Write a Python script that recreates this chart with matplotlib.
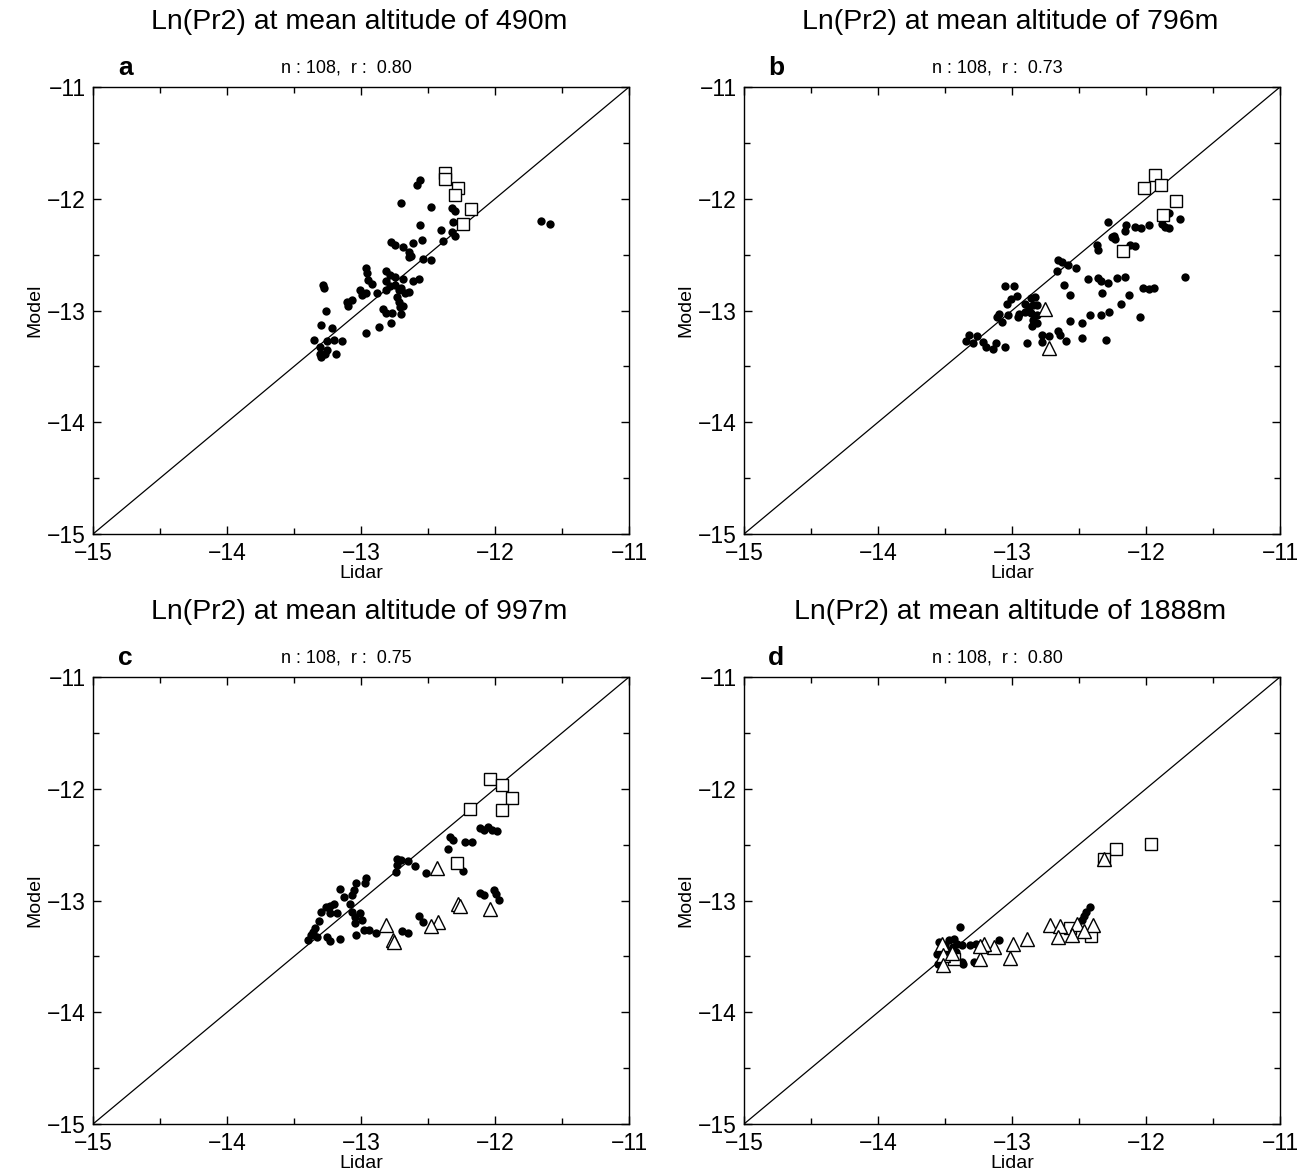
import matplotlib
matplotlib.use('Agg')
import matplotlib.pyplot as plt
from matplotlib.ticker import MultipleLocator

plt.rcParams['font.family'] = ['Liberation Sans', 'DejaVu Sans']
plt.rcParams['axes.unicode_minus'] = True

# panel a : 490 m
a_dot_x = [-12.56, -12.585, -12.70, -12.48, -12.32, -12.30, -12.315, -12.56, -12.40, -12.39,
           -12.32, -12.30, -11.66, -11.59, -12.78, -12.745, -12.685, -12.61, -12.545, -12.645,
           -12.625, -12.645, -12.535, -12.475, -12.96, -12.955, -12.81, -12.785, -12.745, -12.69,
           -12.61, -12.565, -12.945, -12.915, -12.81, -12.785, -12.745, -12.72, -12.70, -12.645,
           -12.67, -12.81, -12.735, -12.72, -12.71, -12.685, -13.285, -13.275, -13.005, -12.995,
           -12.965, -12.88, -13.105, -13.07, -13.095, -12.835, -12.815, -12.77, -12.705, -12.775,
           -12.865, -12.965, -13.265, -13.295, -13.22, -13.35, -13.255, -13.205, -13.145, -13.305,
           -13.255, -13.305, -13.30, -13.185, -13.27]
a_dot_y = [-11.83, -11.88, -12.04, -12.07, -12.08, -12.11, -12.205, -12.235, -12.28, -12.375,
           -12.30, -12.335, -12.195, -12.225, -12.39, -12.415, -12.435, -12.395, -12.37, -12.475,
           -12.51, -12.525, -12.54, -12.55, -12.62, -12.66, -12.65, -12.68, -12.70, -12.72,
           -12.735, -12.715, -12.73, -12.765, -12.74, -12.785, -12.77, -12.815, -12.80, -12.83,
           -12.845, -12.815, -12.875, -12.92, -12.965, -12.96, -12.77, -12.80, -12.815, -12.86,
           -12.845, -12.845, -12.92, -12.905, -12.96, -12.99, -13.025, -13.025, -13.03, -13.115,
           -13.145, -13.205, -13.00, -13.13, -13.155, -13.265, -13.27, -13.265, -13.275, -13.325,
           -13.355, -13.385, -13.42, -13.39, -13.385]
a_sq_x = [-12.375, -12.37, -12.28, -12.295, -12.18, -12.24]
a_sq_y = [-11.77, -11.825, -11.90, -11.97, -12.09, -12.23]
a_tri_x = []
a_tri_y = []

# panel b : 796 m
b_dot_x = [-12.28, -12.15, -12.08, -12.04, -12.155, -11.975, -11.88, -11.855, -11.83, -11.825,
           -11.745, -12.255, -12.23, -12.24, -12.365, -12.355, -12.12, -12.08, -12.66, -12.625,
           -12.585, -12.52, -12.665, -12.435, -12.355, -12.335, -12.28, -12.22, -12.155, -11.71,
           -12.025, -11.98, -11.94, -12.615, -12.57, -12.33, -12.125, -12.185, -12.275, -12.335,
           -12.42, -12.045, -12.57, -12.475, -12.475, -12.30, -12.775, -12.725, -12.655, -12.64,
           -12.595, -12.775, -12.89, -13.055, -12.985, -12.965, -13.01, -13.035, -12.86, -12.825,
           -12.90, -12.875, -12.84, -12.81, -12.90, -12.86, -12.81, -12.84, -12.815, -12.85,
           -12.95, -12.955, -13.03, -13.10, -13.11, -13.075, -13.32, -13.26, -13.34, -13.29,
           -13.22, -13.195, -13.145, -13.12, -13.055]
b_dot_y = [-12.21, -12.235, -12.25, -12.26, -12.285, -12.235, -12.225, -12.25, -12.265, -12.13,
           -12.185, -12.345, -12.36, -12.335, -12.415, -12.455, -12.415, -12.42, -12.55, -12.57,
           -12.595, -12.62, -12.645, -12.72, -12.71, -12.74, -12.75, -12.71, -12.70, -12.70,
           -12.80, -12.81, -12.80, -12.775, -12.86, -12.845, -12.86, -12.94, -13.01, -13.04,
           -13.04, -13.06, -13.095, -13.115, -13.245, -13.26, -13.22, -13.225, -13.18, -13.22,
           -13.27, -13.28, -13.295, -12.785, -12.785, -12.87, -12.90, -12.94, -12.89, -12.875,
           -12.94, -12.965, -12.95, -12.95, -13.01, -13.025, -13.04, -13.085, -13.115, -13.135,
           -13.035, -13.06, -13.04, -13.03, -13.06, -13.10, -13.22, -13.23, -13.27, -13.29,
           -13.28, -13.325, -13.34, -13.295, -13.33]
b_sq_x = [-11.93, -12.015, -11.89, -11.775, -11.875, -12.17]
b_sq_y = [-11.79, -11.905, -11.875, -12.02, -12.145, -12.465]
b_tri_x = [-12.75, -12.725]
b_tri_y = [-12.985, -13.335]

# panel c : 997 m
c_dot_x = [-12.115, -12.08, -12.05, -12.025, -11.985, -12.335, -12.315, -12.225, -12.175, -12.35,
           -12.735, -12.70, -12.65, -12.595, -12.73, -12.74, -12.515, -12.24, -12.965, -12.97,
           -13.035, -13.05, -13.155, -13.125, -13.07, -13.08, -13.205, -13.23, -13.26, -13.295,
           -13.23, -13.18, -13.07, -13.005, -13.045, -12.995, -13.045, -13.31, -13.345, -13.355,
           -13.375, -13.395, -13.33, -13.255, -13.23, -13.155, -13.035, -12.98, -12.94, -12.885,
           -12.695, -12.65, -12.57, -12.535, -12.11, -12.08, -12.005, -11.99, -11.97]
c_dot_y = [-12.355, -12.37, -12.34, -12.365, -12.38, -12.43, -12.46, -12.48, -12.475, -12.535,
           -12.625, -12.64, -12.645, -12.69, -12.68, -12.745, -12.755, -12.735, -12.80, -12.84,
           -12.845, -12.91, -12.90, -12.97, -12.95, -13.03, -13.03, -13.05, -13.06, -13.10,
           -13.11, -13.11, -13.10, -13.115, -13.145, -13.17, -13.205, -13.18, -13.25, -13.28,
           -13.31, -13.355, -13.325, -13.325, -13.36, -13.345, -13.31, -13.26, -13.265, -13.29,
           -13.27, -13.295, -13.14, -13.195, -12.93, -12.95, -12.905, -12.94, -12.995]
c_sq_x = [-12.035, -11.95, -11.87, -12.19, -11.95, -12.285]
c_sq_y = [-11.915, -11.965, -12.08, -12.18, -12.19, -12.665]
c_tri_x = [-12.43, -12.275, -12.26, -12.035, -12.425, -12.475, -12.815, -12.76, -12.755]
c_tri_y = [-12.705, -13.03, -13.05, -13.075, -13.19, -13.225, -13.22, -13.355, -13.37]

# panel d : 1888 m
d_dot_x = [-12.42, -12.445, -12.465, -12.475, -13.39, -13.435, -13.47, -13.545, -13.41, -13.37,
           -13.56, -13.485, -13.42, -13.555, -13.37, -13.365, -13.31, -13.27, -13.095, -13.285,
           -13.50, -13.44]
d_dot_y = [-13.06, -13.10, -13.14, -13.175, -13.235, -13.34, -13.355, -13.37, -13.385, -13.40,
           -13.475, -13.445, -13.46, -13.565, -13.55, -13.57, -13.40, -13.385, -13.355, -13.55,
           -13.40, -13.42]
d_sq_x = [-12.225, -11.96, -12.315, -12.41, -12.565, -13.435]
d_sq_y = [-12.535, -12.495, -12.625, -13.32, -13.25, -13.52]
d_tri_x = [-12.31, -12.72, -12.645, -12.515, -12.395, -12.66, -12.55, -12.46, -12.89, -12.99,
           -13.015, -13.135, -13.21, -13.24, -13.235, -13.52, -13.515, -13.515, -13.445]
d_tri_y = [-12.63, -13.22, -13.23, -13.21, -13.215, -13.33, -13.31, -13.27, -13.345, -13.39,
           -13.51, -13.42, -13.39, -13.52, -13.405, -13.385, -13.49, -13.575, -13.47]

letters = ['a', 'b', 'c', 'd']
altitudes = [490, 796, 997, 1888]
r_values = ['0.80', '0.73', '0.75', '0.80']
n_points = 108

panels = [
    (a_dot_x, a_dot_y, a_sq_x, a_sq_y, a_tri_x, a_tri_y),
    (b_dot_x, b_dot_y, b_sq_x, b_sq_y, b_tri_x, b_tri_y),
    (c_dot_x, c_dot_y, c_sq_x, c_sq_y, c_tri_x, c_tri_y),
    (d_dot_x, d_dot_y, d_sq_x, d_sq_y, d_tri_x, d_tri_y),
]

# axes boxes in figure fractions [left, bottom, width, height]
boxes = [
    [0.0717, 0.5459, 0.4133, 0.3801],
    [0.5736, 0.5459, 0.4133, 0.3801],
    [0.0717, 0.0442, 0.4133, 0.3801],
    [0.5736, 0.0442, 0.4133, 0.3801],
]

fig = plt.figure(figsize=(12.97, 11.76), dpi=100)

for i, (dx, dy, sx, sy, tx, ty) in enumerate(panels):
    ax = fig.add_axes(boxes[i])
    ax.plot([-15, -11], [-15, -11], color='black', lw=0.9, zorder=1)
    ax.plot(dx, dy, 'o', color='black', markersize=6, markeredgewidth=0, zorder=2)
    ax.plot(sx, sy, 's', markerfacecolor='white', markeredgecolor='black',
            markersize=8, markeredgewidth=1.0, zorder=3)
    if tx:
        ax.plot(tx, ty, '^', markerfacecolor='white', markeredgecolor='black',
                markersize=10, markeredgewidth=1.0, zorder=3)
    ax.set_xlim(-15, -11)
    ax.set_ylim(-15, -11)
    ax.xaxis.set_major_locator(MultipleLocator(1))
    ax.yaxis.set_major_locator(MultipleLocator(1))
    ax.xaxis.set_minor_locator(MultipleLocator(0.5))
    ax.yaxis.set_minor_locator(MultipleLocator(0.5))
    ax.tick_params(which='both', direction='in', top=True, right=True,
                   labelsize=16.5, width=1.0)
    ax.tick_params(which='major', length=6)
    ax.tick_params(which='minor', length=4)
    ax.tick_params(axis='x', which='major', pad=6)
    ax.tick_params(axis='y', which='major', pad=5)
    for sp in ax.spines.values():
        sp.set_linewidth(1.0)
    ax.set_xlabel('Lidar', fontsize=14, labelpad=0)
    ax.set_ylabel('Model', fontsize=14, labelpad=3)

    ax.text(0.497, 1.145, 'Ln(Pr2) at mean altitude of %dm' % altitudes[i],
            transform=ax.transAxes, ha='center', va='center', fontsize=20.5)
    ax.text(0.06, 1.0425, letters[i], transform=ax.transAxes,
            ha='center', va='center', fontsize=19, fontweight='bold')
    ax.text(0.472, 1.0425, 'n : %d,  r :  %s' % (n_points, r_values[i]),
            transform=ax.transAxes, ha='center', va='center', fontsize=13)

fig.savefig('out.png', dpi=100)
